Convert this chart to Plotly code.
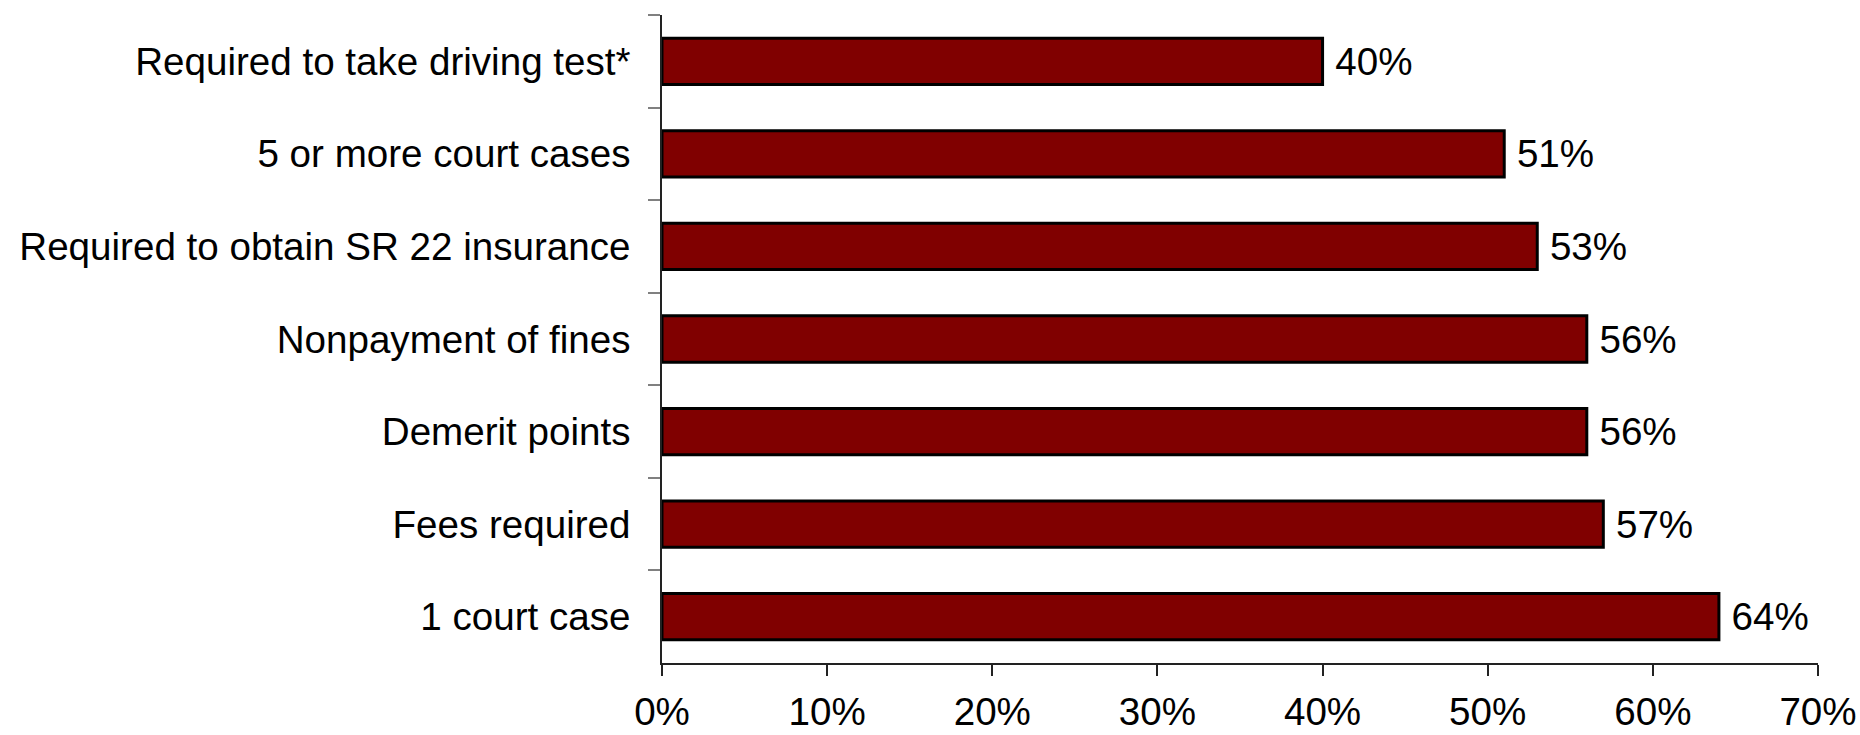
import plotly.graph_objects as go

categories = [
    "Required to take driving test*",
    "5 or more court cases",
    "Required to obtain SR 22 insurance",
    "Nonpayment of fines",
    "Demerit points",
    "Fees required",
    "1 court case",
]
values = [40, 51, 53, 56, 56, 57, 64]
x_ticks = [0, 10, 20, 30, 40, 50, 60, 70]

FONT = "Arial, Liberation Sans, sans-serif"
FS = 38.6

fig = go.Figure(
    go.Bar(
        x=values,
        y=categories,
        orientation="h",
        marker=dict(color="#800000", line=dict(color="black", width=3)),
        text=[f"{v}%" for v in values],
        texttemplate="\u2005%{text}",
        textposition="outside",
        textfont=dict(family=FONT, size=FS, color="black"),
        cliponaxis=False,
        width=0.5,
    )
)

fig.update_layout(
    width=1860,
    height=735,
    margin=dict(l=662, r=42, t=15, b=72, autoexpand=False),
    paper_bgcolor="white",
    plot_bgcolor="white",
    showlegend=False,
    font=dict(family=FONT, size=FS, color="black"),
)

fig.update_xaxes(
    range=[0, 70],
    tickvals=x_ticks,
    ticktext=[f"{t}%" for t in x_ticks],
    ticks="outside",
    ticklen=11,
    tickwidth=1.5,
    tickcolor="#222",
    showline=True,
    linecolor="#222",
    linewidth=1.5,
    showgrid=False,
    zeroline=False,
    ticklabelstandoff=3,
    tickfont=dict(family=FONT, size=FS, color="black"),
)

fig.update_yaxes(
    categoryorder="array",
    categoryarray=categories,
    autorange="reversed",
    ticks="outside",
    tickson="boundaries",
    ticklen=12,
    tickwidth=1.5,
    tickcolor="#808080",
    showline=True,
    linecolor="#222",
    linewidth=1.5,
    showgrid=False,
    zeroline=False,
    ticklabelstandoff=22,
    tickfont=dict(family=FONT, size=FS, color="black"),
)

fig.write_html(
    "out.html",
    config={"displayModeBar": False},
    post_script="document.body.style.margin='0';document.body.style.overflow='hidden';",
)
